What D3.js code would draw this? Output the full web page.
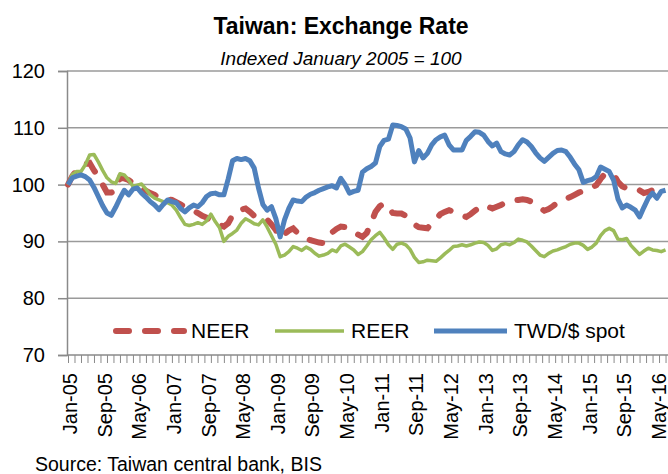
<!DOCTYPE html>
<html>
<head>
<meta charset="utf-8">
<script src="https://cdn.jsdelivr.net/npm/d3@7"></script>
<style>
  body { margin: 0; background: #fff; }
  text { font-family: "Liberation Sans", Arial, sans-serif; fill: #000; }
</style>
</head>
<body>
<div id="chart"></div>
<script>
// monthly values from Jan-05, indexed Jan 2005 = 100
var neer = [100, 101.5, 102.5, 103.2, 103.6, 103.8, 102.5, 101.5, 100.0, 98.6,
  98.6, 99.0, 101.2, 101.1, 100.8, 100.2, 99.6, 99.2, 98.9, 98.5,
  98.2, 97.6, 97.5, 97.4, 97.3, 96.9, 96.5, 96.1, 95.8, 95.4,
  95.0, 94.5, 94.2, 93.6, 93.2, 92.9, 92.6, 93.2, 94.6, 95.2,
  95.6, 95.8, 95.2, 94.5, 94.0, 93.9, 93.8, 93.0, 92.0, 90.6,
  91.3, 91.9, 92.3, 91.5, 90.9, 90.6, 90.2, 90.0, 89.8, 89.7,
  90.6, 91.6, 92.2, 92.6, 92.5, 92.3, 91.8, 91.2, 90.8, 91.5,
  93.2, 95.2, 96.2, 96.7, 95.9, 95.0, 94.9, 94.9, 94.5, 93.9,
  93.0, 92.5, 92.4, 92.3, 93.2, 93.9, 94.8, 95.2, 95.5, 95.2,
  94.8, 94.6, 94.3, 94.8, 95.4, 96.0, 96.4, 96.1, 95.8, 96.1,
  96.4, 96.8, 97.0, 97.2, 97.3, 97.4, 97.3, 97.0, 96.5, 95.9,
  95.4, 95.7, 96.2, 96.8, 97.3, 97.5, 97.8, 98.2, 98.6, 98.9,
  99.1, 99.5, 99.9, 101.0, 101.9, 102.0, 101.8, 100.5, 99.7, 99.3,
  99.3, 99.3, 99.0, 98.5, 98.7, 99.0, 98.8, 98.9, 99.0];

var reer = [100, 101.8, 102.3, 102.3, 103.5, 105.2, 105.3, 104.0, 102.5, 101.2,
  100.5, 100.2, 101.9, 101.7, 100.8, 99.7, 99.9, 100.1, 99.2, 98.2,
  97.6, 97.3, 97.0, 96.8, 96.4, 95.5, 94.2, 93.0, 92.8, 93.0,
  93.3, 93.0, 93.6, 94.8, 93.5, 92.4, 90.0, 90.9, 91.4, 92.0,
  93.2, 94.0, 93.6, 93.1, 92.9, 93.8, 92.5, 91.0, 89.5, 87.3,
  87.6, 88.2, 89.1, 88.8, 88.4, 89.0, 88.6, 87.9, 87.4, 87.6,
  87.9, 88.5, 88.2, 89.2, 89.5, 89.0, 88.5, 87.7, 88.2, 89.2,
  90.3, 91.0, 91.6, 90.6, 89.4, 88.6, 89.5, 89.7, 89.4, 88.6,
  87.2, 86.3, 86.4, 86.7, 86.6, 86.5, 87.1, 87.8, 88.4, 89.1,
  89.2, 89.4, 89.2, 89.4, 89.7, 89.9, 89.8, 89.3, 88.4, 88.7,
  89.4, 89.6, 89.4, 89.8, 90.4, 90.2, 89.9, 89.2, 88.4, 87.6,
  87.3, 87.9, 88.3, 88.5, 88.8, 89.1, 89.5, 89.7, 89.7, 89.3,
  88.6, 89.0, 89.7, 91.0, 91.9, 92.3, 91.9, 90.4, 90.3, 90.5,
  89.3, 88.5, 87.7, 88.3, 88.8, 88.5, 88.4, 88.2, 88.5];

var spot = [100, 101.2, 101.5, 101.7, 101.4, 100.8, 99.5, 97.9, 96.3, 95.0,
  94.6, 96.0, 97.6, 99.0, 98.2, 99.2, 99.4, 98.5, 97.8, 97.0,
  96.4, 95.6, 96.5, 97.3, 97.0, 96.8, 95.8, 95.2, 95.9, 96.4,
  96.1, 96.8, 97.9, 98.4, 98.5, 98.2, 98.2, 101.0, 104.2, 104.6,
  104.4, 104.6, 104.2, 102.9, 99.4, 96.5, 95.5, 96.1, 94.0, 90.8,
  93.8, 95.8, 97.3, 97.1, 97.0, 97.8, 98.3, 98.6, 99.0, 99.3,
  99.6, 99.8, 99.4, 101.1, 100.0, 98.5, 98.8, 99.0, 102.2, 102.8,
  103.2, 103.8, 106.7, 107.8, 108.0, 110.5, 110.4, 110.2, 109.8, 108.2,
  104.0, 106.0, 104.7, 105.5, 107.0, 107.9, 108.4, 108.7, 107.0, 106.1,
  106.1, 106.1, 107.8, 108.5, 109.3, 109.2, 108.7, 107.6, 106.8, 107.3,
  105.8, 105.4, 105.2, 105.8, 107.0, 107.9, 107.5, 106.7, 105.6, 104.7,
  104.1, 104.8, 105.5, 106.0, 106.1, 105.8, 104.8, 103.6, 102.6, 100.4,
  100.7, 100.9, 101.4, 103.1, 102.7, 102.3, 100.8, 97.5, 95.9, 96.4,
  96.0, 95.5, 94.3, 96.0, 97.6, 98.5, 97.6, 98.8, 99.0];

var tickLabels = ["Jan-05", "Sep-05", "May-06", "Jan-07", "Sep-07", "May-08",
  "Jan-09", "Sep-09", "May-10", "Jan-11", "Sep-11", "May-12", "Jan-13",
  "Sep-13", "May-14", "Jan-15", "Sep-15", "May-16"];
var yTicks = [70, 80, 90, 100, 110, 120];

var seriesNames = ["NEER", "REER", "TWD/$ spot"];
var seriesColors = ["#C0504D", "#9BBB59", "#4F81BD"];

var svgWidth = 668;
var svgHeight = 474;

var svg = d3.select("#chart")
  .append("svg")
  .attr("width", svgWidth)
  .attr("height", svgHeight);

// month labels for every data point
var fmt = d3.timeFormat("%b-%y");
var monthLabels = neer.map(function(d, i) { return fmt(new Date(2005, i, 1)); });

var x = d3.scaleLinear()
  .domain([0, neer.length - 1])
  .range([68, 68 + (neer.length - 1) * 4.33]);
var y = d3.scaleLinear()
  .domain([70, 120])
  .range([355, 71]);

var left = 67, right = svgWidth;

// title
svg.append("text")
  .attr("x", 341).attr("y", 34)
  .attr("text-anchor", "middle")
  .style("font-size", "23px").style("font-weight", "bold")
  .text("Taiwan: Exchange Rate");
svg.append("text")
  .attr("x", 341).attr("y", 65)
  .attr("text-anchor", "middle")
  .style("font-size", "19px").style("font-style", "italic")
  .text("Indexed January 2005 = 100");

// gridlines
svg.append("g")
  .selectAll("line")
  .data(yTicks.slice(1))
  .enter().append("line")
  .attr("x1", left).attr("x2", right)
  .attr("y1", function(d) { return y(d); })
  .attr("y2", function(d) { return y(d); })
  .attr("stroke", "#9a9a9a")
  .attr("stroke-width", 1.5);

// y axis
var yAxis = d3.axisLeft(y).tickValues(yTicks).tickSize(9).tickPadding(13);
var yg = svg.append("g")
  .attr("transform", "translate(" + left + ",0)")
  .call(yAxis);
yg.select(".domain").attr("stroke", "#8a8a8a").attr("stroke-width", 1.5);
yg.selectAll(".tick line").attr("stroke", "#8a8a8a").attr("stroke-width", 1.5);
yg.selectAll("text").style("font-size", "20px").attr("fill", "#000");

// x axis: minor ticks
var minor = d3.range(0, x.invert(right), 1.5);
var xMinor = d3.axisBottom(x).tickValues(minor).tickSize(8).tickFormat("");
var xg = svg.append("g")
  .attr("transform", "translate(0," + y(70) + ")")
  .call(xMinor);
xg.select(".domain").attr("d", "M" + left + ",0H" + right)
  .attr("stroke", "#8a8a8a").attr("stroke-width", 1.5);
xg.selectAll(".tick line").attr("stroke", "#8a8a8a").attr("stroke-width", 1);

// x axis labels
svg.append("g")
  .selectAll("text")
  .data(tickLabels)
  .enter().append("text")
  .attr("transform", function(d) {
    return "translate(" + (x(monthLabels.indexOf(d)) + 2) + ",373) rotate(-90)";
  })
  .attr("dy", "0.35em")
  .attr("text-anchor", "end")
  .style("font-size", "20px")
  .text(function(d) { return d; });

// lines
var line = d3.line()
  .x(function(d, i) { return x(i); })
  .y(function(d) { return y(d); });

svg.append("path")
  .datum(neer)
  .attr("d", line)
  .attr("fill", "none")
  .attr("stroke", seriesColors[0])
  .attr("stroke-width", 6)
  .attr("stroke-dasharray", "13,16")
  .attr("stroke-linecap", "round");

svg.append("path")
  .datum(reer)
  .attr("d", line)
  .attr("fill", "none")
  .attr("stroke", seriesColors[1])
  .attr("stroke-width", 3.5)
  .attr("stroke-linejoin", "round");

svg.append("path")
  .datum(spot)
  .attr("d", line)
  .attr("fill", "none")
  .attr("stroke", seriesColors[2])
  .attr("stroke-width", 5)
  .attr("stroke-linejoin", "round");

// legend
var legendY = 331;
var legendItems = [
  { x1: 116, x2: 184, tx: 191, dash: "13,16", w: 6 },
  { x1: 275, x2: 344, tx: 351, dash: null, w: 3.5 },
  { x1: 434, x2: 507, tx: 514, dash: null, w: 5 }
];
legendItems.forEach(function(it, i) {
  svg.append("line")
    .attr("x1", it.x1).attr("x2", it.x2)
    .attr("y1", legendY).attr("y2", legendY)
    .attr("stroke", seriesColors[i])
    .attr("stroke-width", it.w)
    .attr("stroke-linecap", it.dash ? "round" : "butt")
    .attr("stroke-dasharray", it.dash);
  svg.append("text")
    .attr("x", it.tx).attr("y", legendY)
    .attr("dy", "0.35em")
    .style("font-size", "21px")
    .text(seriesNames[i]);
});

// source
svg.append("text")
  .attr("x", 35).attr("y", 471)
  .style("font-size", "19.5px")
  .text("Source: Taiwan central bank, BIS");
</script>
</body>
</html>
